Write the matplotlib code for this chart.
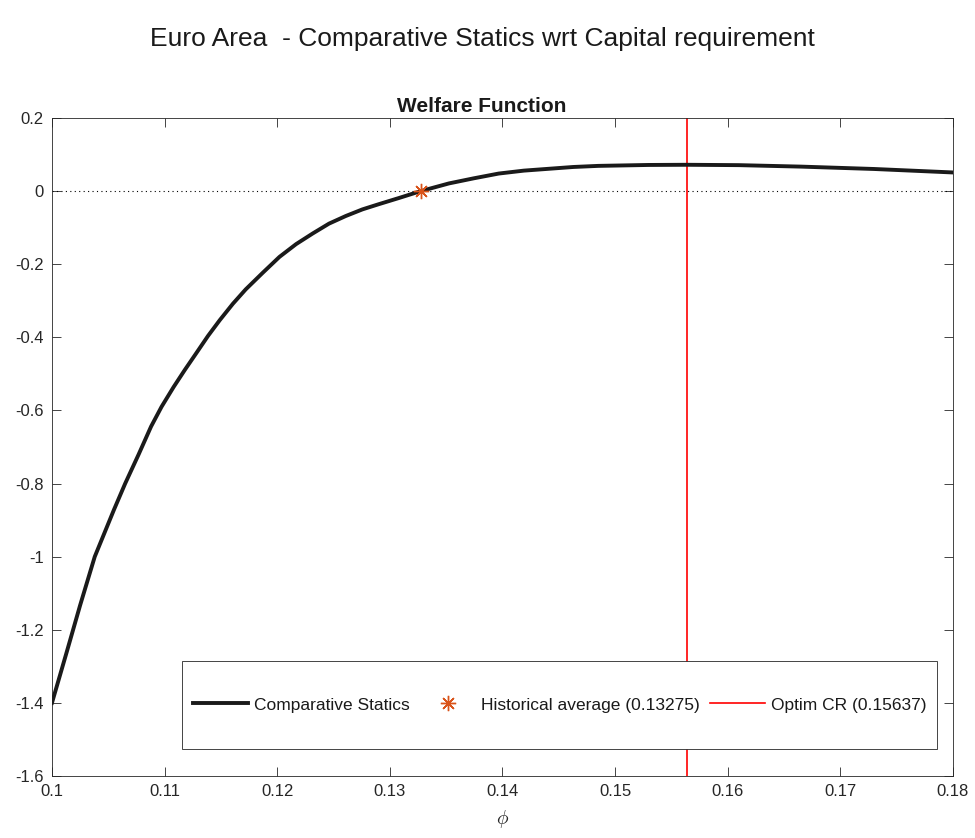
import matplotlib
matplotlib.use('Agg')
import matplotlib.pyplot as plt
from matplotlib.patches import Rectangle

# capital requirement grid and welfare values
phi = [0.1000, 0.1013, 0.1025, 0.1038, 0.1055, 0.1065, 0.1077, 0.1088, 0.10973,
       0.1108, 0.1118, 0.1128, 0.11386, 0.1149, 0.11607, 0.1172, 0.11873, 0.1202,
       0.12168, 0.12315, 0.1246, 0.1261, 0.12757, 0.1290, 0.1308, 0.13275,
       0.13525, 0.13746, 0.13967, 0.1419, 0.1441, 0.1463, 0.14852, 0.15295,
       0.15637, 0.1610, 0.1665, 0.1730, 0.1800]
welfare = [-1.400, -1.262, -1.133, -1.000, -0.872, -0.800, -0.720, -0.644, -0.590,
           -0.536, -0.489, -0.444, -0.396, -0.353, -0.308, -0.269, -0.223, -0.180,
           -0.145, -0.116, -0.089, -0.068, -0.050, -0.036, -0.019, 0.000,
           0.021, 0.035, 0.048, 0.056, 0.061, 0.066, 0.069, 0.0715,
           0.072, 0.071, 0.067, 0.0605, 0.051]

hist_avg = 0.13275
optim_cr = 0.15637

xticks = [0.1, 0.11, 0.12, 0.13, 0.14, 0.15, 0.16, 0.17, 0.18]
yticks = [-1.6, -1.4, -1.2, -1, -0.8, -0.6, -0.4, -0.2, 0, 0.2]

plt.rcParams['font.family'] = ['Liberation Sans', 'DejaVu Sans']
plt.rcParams['mathtext.fontset'] = 'cm'
axc = '#262626'

fig = plt.figure(figsize=(9.75, 8.38), dpi=100)
ax = fig.add_axes([0.0533, 0.074, 0.924, 0.7852])

ax.plot(phi, welfare, color='#1a1a1a', lw=2.8, label='Comparative Statics',
        zorder=3, solid_joinstyle='round')
ax.axhline(0, color='black', lw=0.8, ls=(0, (1, 3)), zorder=2)
ax.plot([hist_avg], [0], ls='none', marker=(8, 2, 0), ms=11, mew=1.0,
        color='#D95319', label='Historical average (%.5f)' % hist_avg, zorder=4)
ax.axvline(optim_cr, color='red', lw=1.2, label='Optim CR (%.5f)' % optim_cr, zorder=2)

ax.set_xlim(0.1, 0.18)
ax.set_ylim(-1.6, 0.2)
ax.set_xticks(xticks)
ax.set_xticklabels(['%g' % t for t in xticks])
ax.set_yticks(yticks)
ax.set_yticklabels(['%g' % t for t in yticks])
ax.tick_params(direction='in', length=6.5, width=0.6, colors=axc, labelsize=12,
               top=True, right=True, pad=6)
for s in ax.spines.values():
    s.set_color(axc)
    s.set_linewidth(0.6)

ax.set_title('Welfare Function', fontsize=15, fontweight='bold', color='#1a1a1a',
             pad=4, x=0.477)
ax.set_xlabel(r'$\phi$', fontsize=14, color=axc, labelpad=6)
fig.suptitle('Euro Area  - Comparative Statics wrt Capital requirement',
             fontsize=19, color='#1a1a1a', x=0.495, y=0.968)

# legend box drawn separately to get the tall frame
x0, y0, w, h = 0.1443, 0.041, 0.838, 0.134
ax.add_patch(Rectangle((x0, y0), w, h, transform=ax.transAxes, facecolor='white',
                       edgecolor=axc, lw=0.6, zorder=5))
leg = ax.legend(loc='center', bbox_to_anchor=(x0 + w / 2, y0 + h / 2), ncol=3,
                frameon=False, fontsize=12.5, handlelength=3.2, handletextpad=0.3,
                columnspacing=0.6)
leg.set_zorder(6)
for t in leg.get_texts():
    t.set_color('#1a1a1a')

fig.savefig('out.png', dpi=100)
